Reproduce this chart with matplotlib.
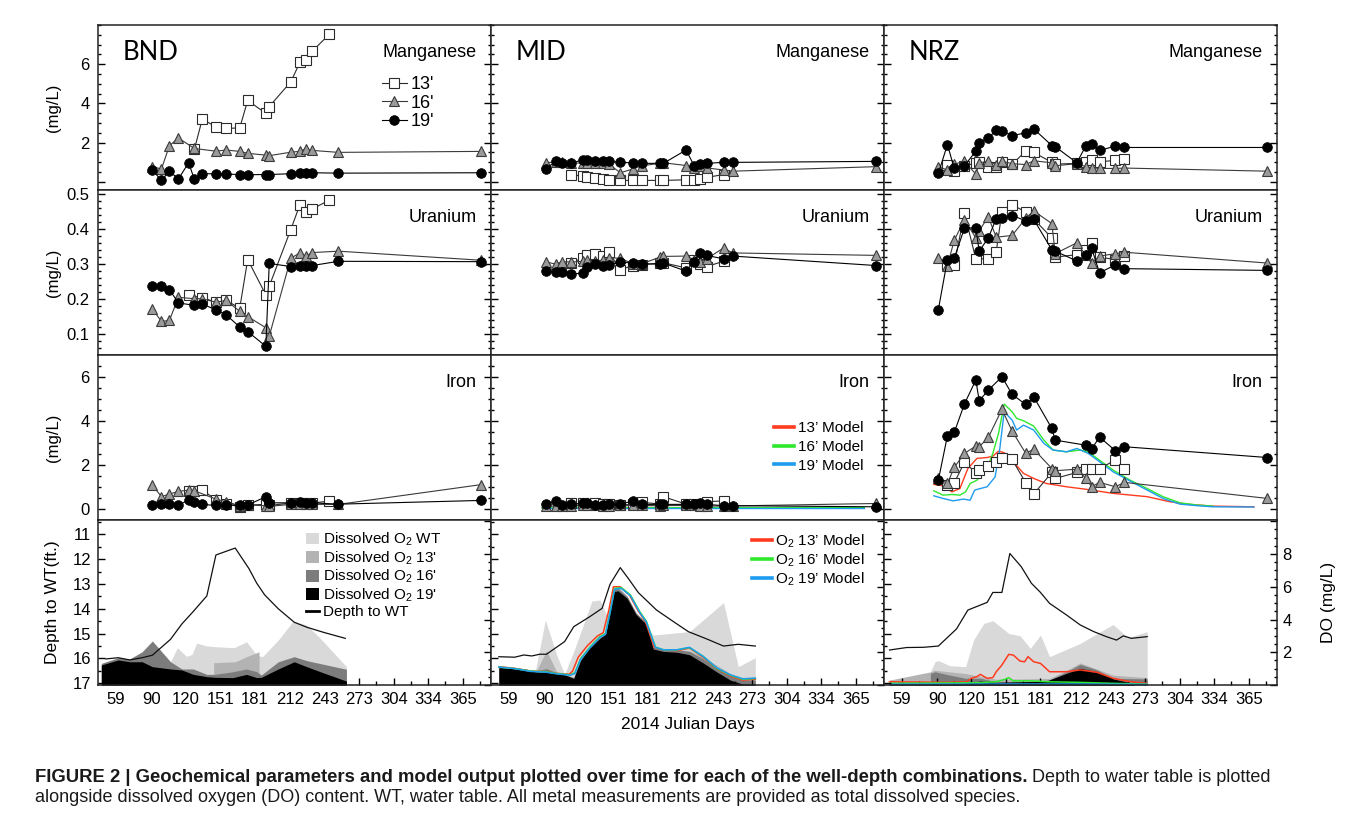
import matplotlib
matplotlib.use("Agg")
import matplotlib.pyplot as plt
from matplotlib.lines import Line2D
from matplotlib.patches import Patch
from matplotlib.ticker import MultipleLocator, FixedLocator, NullLocator

plt.rcParams['font.family'] = ['Liberation Sans', 'DejaVu Sans']
plt.rcParams['mathtext.fontset'] = 'custom'
plt.rcParams['mathtext.rm'] = 'Liberation Sans'
plt.rcParams['mathtext.it'] = 'Liberation Sans:italic'
plt.rcParams['mathtext.bf'] = 'Liberation Sans:bold'

# ----------------------------------------------------------------- data
sites = ["BND", "MID", "NRZ"]
metals = ["Manganese", "Uranium", "Iron"]
month_ticks = [59, 90, 120, 151, 181, 212, 243, 273, 304, 334, 365]
minor_ticks = [74, 105, 135, 166, 196, 227, 258, 288, 319, 349, 380]

# BND
bnd_mn_13_day = [128, 135, 147, 156, 168, 175, 191, 194, 213, 221, 226, 232, 247]
bnd_mn_13_val = [1.65, 3.2, 2.8, 2.72, 2.75, 4.15, 3.49, 3.84, 5.1, 6.09, 6.22, 6.67, 7.53]
bnd_mn_16_day = [91, 99, 106, 114, 128, 147, 156, 168, 175, 191, 194, 213, 221, 226, 232, 255, 381]
bnd_mn_16_val = [0.77, 0.65, 1.84, 2.23, 1.7, 1.56, 1.62, 1.55, 1.45, 1.36, 1.33, 1.51, 1.55, 1.67, 1.6, 1.5, 1.55]
bnd_mn_19_day = [91, 99, 106, 114, 123, 128, 135, 147, 156, 168, 175, 191, 194, 213, 221, 226, 232, 255, 381]
bnd_mn_19_val = [0.6, 0.07, 0.54, 0.15, 0.97, 0.12, 0.41, 0.41, 0.39, 0.37, 0.36, 0.37, 0.37, 0.41, 0.43, 0.43, 0.46, 0.44, 0.46]

bnd_u_13_day = [123, 135, 147, 156, 168, 175, 191, 194, 213, 221, 226, 232, 247]
bnd_u_13_val = [0.21, 0.203, 0.19, 0.195, 0.173, 0.312, 0.211, 0.236, 0.398, 0.469, 0.448, 0.457, 0.482]
bnd_u_16_day = [91, 99, 106, 114, 128, 135, 147, 156, 168, 175, 191, 194, 213, 221, 226, 232, 255, 381]
bnd_u_16_val = [0.171, 0.135, 0.138, 0.204, 0.2, 0.2, 0.19, 0.195, 0.164, 0.149, 0.117, 0.093, 0.316, 0.331, 0.322, 0.332, 0.336, 0.31]
bnd_u_19_day = [91, 99, 106, 114, 128, 135, 147, 156, 168, 175, 191, 194, 213, 221, 226, 232, 255, 381]
bnd_u_19_val = [0.235, 0.236, 0.226, 0.188, 0.181, 0.185, 0.168, 0.154, 0.119, 0.106, 0.064, 0.301, 0.292, 0.295, 0.293, 0.295, 0.307, 0.306]

bnd_fe_13_day = [123, 128, 135, 147, 156, 168, 175, 191, 194, 213, 221, 226, 232, 247]
bnd_fe_13_val = [0.83, 0.83, 0.86, 0.41, 0.23, 0.09, 0.17, 0.2, 0.15, 0.26, 0.26, 0.24, 0.26, 0.35]
bnd_fe_16_day = [91, 99, 106, 114, 123, 128, 147, 156, 168, 175, 191, 194, 213, 221, 226, 232, 255, 381]
bnd_fe_16_val = [1.08, 0.55, 0.67, 0.79, 0.85, 0.82, 0.44, 0.32, 0.14, 0.17, 0.14, 0.11, 0.2, 0.2, 0.2, 0.2, 0.2, 1.1]
bnd_fe_19_day = [91, 99, 106, 114, 123, 128, 135, 147, 156, 168, 175, 191, 194, 213, 221, 226, 232, 255, 381]
bnd_fe_19_val = [0.18, 0.21, 0.21, 0.15, 0.41, 0.32, 0.2, 0.15, 0.15, 0.18, 0.17, 0.55, 0.27, 0.27, 0.3, 0.26, 0.27, 0.21, 0.38]

# MID
mid_day = [92, 100, 106, 114, 124, 128, 135, 142, 147, 157, 168, 176, 192, 195, 215, 222, 227, 233, 248, 256, 382]
mid_day_13 = [114, 124, 128, 135, 142, 147, 157, 168, 176, 192, 195, 215, 222, 227, 233, 248]
mid_mn_13_val = [0.36, 0.29, 0.24, 0.2, 0.12, 0.1, 0.07, 0.07, 0.07, 0.07, 0.07, 0.1, 0.1, 0.15, 0.22, 0.37]
mid_mn_16_val = [0.97, 1.02, 1.02, 0.94, 0.97, 0.97, 0.97, 0.97, 0.9, 0.46, 0.65, 0.82, 0.94, 0.97, 0.83, 0.71, 0.8, 0.71, 0.6, 0.54, 0.77]
mid_mn_19_val = [0.66, 1.07, 0.94, 0.97, 1.11, 1.11, 1.05, 1.05, 1.04, 0.99, 0.97, 0.94, 0.94, 0.94, 1.62, 0.83, 0.9, 0.94, 0.99, 0.99, 1.04]
mid_u_13_val = [0.303, 0.316, 0.326, 0.328, 0.322, 0.333, 0.283, 0.295, 0.297, 0.302, 0.303, 0.288, 0.31, 0.3, 0.292, 0.307]
mid_u_16_val = [0.305, 0.299, 0.306, 0.305, 0.307, 0.312, 0.309, 0.31, 0.317, 0.316, 0.3, 0.3, 0.319, 0.321, 0.322, 0.312, 0.305, 0.314, 0.345, 0.331, 0.324]
mid_u_19_val = [0.278, 0.277, 0.276, 0.271, 0.273, 0.29, 0.298, 0.293, 0.296, 0.305, 0.302, 0.3, 0.299, 0.302, 0.279, 0.306, 0.332, 0.324, 0.314, 0.322, 0.295]
mid_fe_13_val = [0.24, 0.24, 0.22, 0.27, 0.2, 0.2, 0.18, 0.2, 0.29, 0.22, 0.55, 0.21, 0.21, 0.18, 0.32, 0.36]
mid_fe_16_val = [0.12, 0.12, 0.13, 0.14, 0.15, 0.15, 0.16, 0.14, 0.14, 0.15, 0.16, 0.15, 0.14, 0.15, 0.15, 0.16, 0.13, 0.13, 0.12, 0.13, 0.24]
mid_fe_19_val = [0.2, 0.36, 0.17, 0.2, 0.24, 0.24, 0.17, 0.17, 0.2, 0.2, 0.36, 0.2, 0.2, 0.2, 0.2, 0.2, 0.27, 0.2, 0.14, 0.14, 0.09]

# NRZ
nrz_day = [91, 99, 105, 114, 124, 127, 135, 142, 147, 156, 168, 175, 191, 194, 213, 221, 226, 233, 247, 255, 381]
nrz_day_13 = [99, 105, 114, 124, 127, 135, 142, 147, 156, 168, 175, 191, 194, 213, 221, 226, 233, 247, 255]
nrz_mn_13_val = [0.87, 0.56, 0.83, 0.94, 0.99, 0.77, 0.73, 1.02, 0.9, 1.56, 1.5, 0.99, 0.9, 0.94, 1.02, 1.11, 1.02, 1.09, 1.14]
nrz_mn_16_val = [0.77, 0.6, 0.9, 1.04, 0.39, 0.97, 1.04, 0.87, 1.05, 0.92, 0.88, 1.07, 0.97, 0.82, 0.92, 0.77, 0.71, 0.68, 0.68, 0.7, 0.54]
nrz_mn_19_val = [0.43, 1.9, 0.68, 0.82, 1.56, 2.0, 2.23, 2.64, 2.59, 2.35, 2.5, 2.7, 1.85, 1.79, 0.97, 1.84, 1.92, 1.6, 1.82, 1.75, 1.75]
nrz_u_13_day = [99, 105, 114, 124, 135, 142, 147, 156, 168, 175, 191, 194, 213, 221, 226, 233, 247, 255]
nrz_u_13_val = [0.297, 0.297, 0.445, 0.314, 0.314, 0.335, 0.448, 0.469, 0.448, 0.428, 0.374, 0.319, 0.326, 0.338, 0.36, 0.319, 0.312, 0.321]
nrz_u_16_day = [91, 99, 105, 114, 124, 127, 135, 142, 156, 168, 175, 191, 194, 213, 221, 226, 233, 247, 255, 381]
nrz_u_16_val = [0.317, 0.295, 0.367, 0.426, 0.374, 0.395, 0.434, 0.376, 0.381, 0.43, 0.451, 0.415, 0.329, 0.36, 0.324, 0.302, 0.322, 0.329, 0.333, 0.302]
nrz_u_19_val = [0.169, 0.312, 0.316, 0.402, 0.403, 0.336, 0.374, 0.429, 0.431, 0.438, 0.423, 0.427, 0.34, 0.336, 0.308, 0.324, 0.345, 0.274, 0.297, 0.286, 0.281]
nrz_fe_13_val = [1.08, 1.18, 2.11, 1.64, 1.76, 1.95, 2.14, 2.32, 2.24, 1.18, 0.67, 1.65, 1.38, 1.65, 1.83, 1.79, 1.83, 2.21, 1.8]
nrz_fe_16_day = [91, 99, 105, 114, 124, 127, 135, 147, 156, 168, 175, 191, 194, 213, 221, 226, 233, 247, 255, 381]
nrz_fe_16_val = [1.38, 1.15, 1.88, 2.52, 2.85, 2.82, 3.24, 4.52, 3.53, 2.52, 2.71, 1.83, 1.73, 1.8, 1.38, 1.0, 1.2, 1.0, 1.2, 0.47]
nrz_fe_19_day = [91, 99, 105, 114, 124, 127, 135, 147, 156, 168, 175, 191, 194, 221, 226, 233, 247, 255, 381]
nrz_fe_19_val = [1.3, 3.32, 3.47, 4.77, 5.85, 4.91, 5.39, 6.0, 5.2, 4.74, 5.09, 3.65, 3.12, 2.89, 2.71, 3.26, 2.64, 2.82, 2.33]

# Iron model output
mid_fe_model_day = [88, 130, 175, 220, 270, 320, 372]
mid_fe_model13_val = [0.06, 0.06, 0.06, 0.05, 0.05, 0.05, 0.05]
mid_fe_model16_val = [0.05, 0.06, 0.05, 0.05, 0.05, 0.05, 0.05]
mid_fe_model19_val = [0.05, 0.05, 0.05, 0.05, 0.05, 0.05, 0.05]
nrz_fe_model13_day = [87, 95, 103, 110, 117, 125, 134, 139, 144, 149, 157, 166, 175, 186, 204, 222, 245, 275, 295, 310, 333, 369]
nrz_fe_model13_val = [1.11, 1.05, 0.77, 0.92, 1.83, 2.29, 2.33, 2.39, 2.62, 2.55, 2.14, 1.61, 1.38, 1.15, 1.0, 0.88, 0.7, 0.55, 0.32, 0.21, 0.12, 0.09]
nrz_fe_model16_day = [87, 95, 103, 110, 115, 119, 125, 134, 139, 144, 149, 156, 160, 166, 175, 184, 192, 204, 216, 223, 233, 245, 260, 275, 289, 304, 319, 333]
nrz_fe_model16_val = [0.82, 0.62, 0.65, 0.62, 0.77, 1.15, 1.3, 1.83, 2.52, 3.42, 4.76, 4.41, 4.11, 4.0, 3.76, 3.12, 2.67, 2.59, 2.67, 2.59, 2.21, 1.76, 1.3, 0.92, 0.55, 0.27, 0.17, 0.12]
nrz_fe_model19_day = [87, 95, 104, 113, 119, 123, 128, 134, 141, 145, 149, 156, 160, 166, 175, 184, 192, 204, 213, 223, 233, 245, 260, 275, 289, 304, 319, 333, 369]
nrz_fe_model19_val = [0.59, 0.47, 0.36, 0.44, 0.39, 0.85, 0.92, 1.0, 1.45, 2.67, 4.41, 4.03, 3.58, 3.8, 3.58, 2.97, 2.67, 2.59, 2.74, 2.52, 2.14, 1.68, 1.26, 0.85, 0.47, 0.21, 0.14, 0.09, 0.08]

# Depth to water table (ft)
bnd_wt_day = [50, 61, 71, 82, 91, 107, 117, 127, 139, 147, 164, 176, 183, 190, 202, 216, 227, 242, 261]
bnd_wt_val = [16.02, 15.97, 16.06, 15.97, 15.87, 15.23, 14.61, 14.11, 13.48, 11.83, 11.55, 12.37, 12.97, 13.44, 14.0, 14.54, 14.74, 14.95, 15.19]
mid_wt_day = [50, 64, 72, 79, 86, 92, 108, 116, 130, 141, 148, 157, 164, 173, 189, 204, 217, 233, 248, 261, 276]
mid_wt_val = [15.93, 15.95, 15.86, 15.9, 15.83, 15.83, 15.32, 14.72, 14.32, 13.98, 13.01, 12.34, 12.77, 13.35, 14.05, 14.52, 14.92, 15.21, 15.5, 15.43, 15.5]
nrz_wt_day = [48, 63, 78, 91, 107, 117, 134, 139, 147, 154, 164, 173, 181, 189, 204, 216, 228, 239, 248, 254, 261, 275]
nrz_wt_val = [15.66, 15.56, 15.55, 15.5, 14.81, 14.05, 13.74, 13.34, 13.34, 11.77, 12.3, 12.97, 13.34, 13.78, 14.25, 14.65, 14.92, 15.12, 15.26, 15.09, 15.19, 15.12]

# Dissolved oxygen (mg/L)
bnd_do_wt_day = [107, 113, 121, 126, 130, 138, 146, 163, 174, 183, 188, 202, 215, 227, 239, 262]
bnd_do_wt_val = [1.42, 2.28, 1.75, 1.87, 2.56, 2.4, 2.34, 2.28, 2.64, 1.83, 1.73, 2.75, 3.9, 3.66, 2.85, 1.12]
bnd_do_13_day = [145, 164, 174, 185]
bnd_do_13_val = [1.36, 1.42, 1.73, 2.03]
bnd_do_16_day = [46, 61, 71, 82, 91, 107, 117, 127, 139, 146, 162, 174, 183, 187, 202, 216, 227, 262]
bnd_do_16_val = [1.32, 1.67, 1.59, 2.03, 2.69, 1.42, 0.98, 0.98, 0.65, 0.65, 0.81, 0.98, 0.81, 0.61, 1.42, 1.73, 1.49, 0.96]
bnd_do_19_day = [46, 61, 71, 82, 91, 107, 117, 127, 139, 146, 162, 174, 183, 187, 202, 216, 227, 239, 262]
bnd_do_19_val = [1.22, 1.53, 1.42, 1.42, 1.12, 0.98, 0.92, 0.65, 0.51, 0.47, 0.45, 0.65, 0.45, 0.47, 0.98, 1.42, 1.12, 0.81, 0.24]

mid_do_wt_day = [82, 91, 101, 108, 117, 132, 139, 145, 154, 160, 171, 186, 218, 248, 261, 276]
mid_do_wt_val = [0.81, 3.97, 1.83, 0.65, 2.24, 5.13, 5.19, 4.27, 6.1, 5.6, 4.27, 3.05, 3.26, 5.03, 1.12, 1.67]
mid_do_day = [50, 64, 72, 83, 92, 101, 108, 116, 122, 130, 139, 144, 151, 155, 163, 171, 180, 186, 195, 207, 218, 230, 242, 254, 265, 276]
mid_do_13_val = [1.1, 1.05, 1.0, 0.85, 2.1, 0.8, 0.65, 0.45, 1.55, 2.3, 2.9, 3.2, 5.9, 6.0, 5.45, 4.4, 3.8, 2.3, 2.2, 2.15, 2.1, 1.7, 1.2, 0.7, 0.4, 0.4]
mid_do_16_val = [1.1, 1.05, 1.0, 0.85, 1.0, 0.75, 0.65, 0.45, 1.55, 2.3, 2.9, 3.2, 5.85, 5.9, 5.4, 4.4, 3.8, 2.3, 2.2, 2.15, 2.05, 1.6, 1.05, 0.55, 0.3, 0.3]
mid_do_19_val = [1.06, 1.0, 0.95, 0.8, 0.78, 0.7, 0.62, 0.4, 1.5, 2.25, 2.85, 3.1, 5.7, 5.75, 5.3, 4.3, 3.7, 2.2, 2.05, 2.0, 1.85, 1.35, 0.8, 0.3, 0.05, 0.05]

nrz_do_wt_day = [48, 78, 84, 88, 91, 101, 115, 122, 131, 139, 153, 163, 172, 181, 189, 216, 245, 258, 275]
nrz_do_wt_val = [0.31, 0.31, 0.81, 1.42, 1.49, 1.18, 1.12, 2.75, 3.76, 3.93, 3.15, 3.01, 2.24, 3.05, 1.73, 2.54, 3.7, 2.89, 3.26]
nrz_do_13_day = [48, 84, 88, 115, 142, 189, 204, 216, 245, 275]
nrz_do_13_val = [0.3, 0.8, 0.9, 0.7, 0.35, 0.4, 0.9, 1.35, 0.6, 0.45]
nrz_do_16_day = [84, 88, 98, 115, 128, 142, 172, 189, 204, 216, 231, 245, 275]
nrz_do_16_val = [0.71, 0.81, 0.65, 0.41, 0.41, 0.2, 0.2, 0.31, 0.81, 1.26, 0.92, 0.41, 0.37]
nrz_do_19_day = [48, 113, 128, 142, 186, 204, 216, 231, 245, 263]
nrz_do_19_val = [0.1, 0.1, 0.24, 0.16, 0.24, 0.71, 1.02, 0.81, 0.37, 0.1]

# O2 model output
mid_do_model13_day = [50, 64, 78, 92, 101, 112, 115, 120, 128, 137, 142, 147, 151, 157, 165, 173, 179, 187, 195, 207, 218, 230, 242, 254, 265, 276]
mid_do_model13_val = [1.12, 1.02, 0.85, 0.81, 0.71, 0.65, 0.85, 1.7, 2.4, 3.0, 3.2, 4.6, 6.0, 6.0, 5.5, 4.5, 3.9, 2.3, 2.14, 2.1, 2.25, 1.7, 1.0, 0.55, 0.3, 0.35]
mid_do_model_day = [50, 64, 78, 92, 101, 113, 117, 122, 130, 139, 144, 148, 152, 158, 166, 174, 180, 188, 195, 207, 218, 230, 242, 254, 265, 276]
mid_do_model16_val = [1.1, 1.0, 0.85, 0.8, 0.7, 0.62, 0.75, 1.6, 2.3, 2.95, 3.15, 4.45, 5.9, 5.95, 5.5, 4.5, 3.9, 2.32, 2.15, 2.15, 2.28, 1.75, 1.02, 0.6, 0.35, 0.4]
mid_do_model19_val = [1.1, 1.0, 0.83, 0.78, 0.68, 0.6, 0.7, 1.55, 2.25, 2.9, 3.1, 4.4, 5.85, 5.9, 5.45, 4.45, 3.85, 2.3, 2.15, 2.15, 2.3, 1.75, 1.05, 0.62, 0.38, 0.42]
nrz_do_model13_day = [48, 98, 116, 120, 125, 128, 134, 139, 142, 147, 153, 157, 163, 167, 170, 175, 181, 189, 204, 216, 231, 245, 260, 275]
nrz_do_model13_val = [0.2, 0.16, 0.2, 0.41, 0.51, 0.65, 0.41, 0.45, 0.81, 1.22, 1.87, 1.83, 1.46, 1.42, 1.73, 1.42, 1.32, 0.81, 0.81, 0.92, 0.77, 0.41, 0.2, 0.1]
nrz_do_model16_day = [48, 128, 142, 150, 153, 157, 172, 186, 216, 245, 275]
nrz_do_model16_val = [0.1, 0.14, 0.2, 0.35, 0.45, 0.25, 0.26, 0.2, 0.16, 0.1, 0.06]
nrz_do_model19_day = [48, 150, 216, 275]
nrz_do_model19_val = [0.05, 0.06, 0.06, 0.04]

# ----------------------------------------------------------------- layout
FIG_W, FIG_H = 1358, 825
fig = plt.figure(figsize=(FIG_W / 100, FIG_H / 100), dpi=100)

def fx(px):
    return px / FIG_W

def fy(py):
    return 1 - py / FIG_H

col_x = [98, 491, 884]
col_w = 393
row_y = [25, 190, 355, 520]
row_h = 165
XLIM = (43.1, 389.4)

RED, GREEN, BLUE = '#ff3b1f', '#2ee82e', '#1e9cf0'
GREY_WT, GREY_13, GREY_16 = '#d9d9d9', '#b3b3b3', '#7c7c7c'

STYLE = {
    13: dict(marker='s', ms=7, mfc='white', mec='#2b2b2b', mew=0.8, color='#2b2b2b', lw=0.8),
    16: dict(marker='^', ms=7.5, mfc='#9a9a9a', mec='#3a3a3a', mew=0.8, color='#3a3a3a', lw=0.8),
    19: dict(marker='o', ms=7, mfc='black', mec='black', mew=0.5, color='black', lw=0.8),
}

series = {
    ("BND", "Manganese"): [(bnd_mn_13_day, bnd_mn_13_val), (bnd_mn_16_day, bnd_mn_16_val), (bnd_mn_19_day, bnd_mn_19_val)],
    ("BND", "Uranium"): [(bnd_u_13_day, bnd_u_13_val), (bnd_u_16_day, bnd_u_16_val), (bnd_u_19_day, bnd_u_19_val)],
    ("BND", "Iron"): [(bnd_fe_13_day, bnd_fe_13_val), (bnd_fe_16_day, bnd_fe_16_val), (bnd_fe_19_day, bnd_fe_19_val)],
    ("MID", "Manganese"): [(mid_day_13, mid_mn_13_val), (mid_day, mid_mn_16_val), (mid_day, mid_mn_19_val)],
    ("MID", "Uranium"): [(mid_day_13, mid_u_13_val), (mid_day, mid_u_16_val), (mid_day, mid_u_19_val)],
    ("MID", "Iron"): [(mid_day_13, mid_fe_13_val), (mid_day, mid_fe_16_val), (mid_day, mid_fe_19_val)],
    ("NRZ", "Manganese"): [(nrz_day_13, nrz_mn_13_val), (nrz_day, nrz_mn_16_val), (nrz_day, nrz_mn_19_val)],
    ("NRZ", "Uranium"): [(nrz_u_13_day, nrz_u_13_val), (nrz_u_16_day, nrz_u_16_val), (nrz_day, nrz_u_19_val)],
    ("NRZ", "Iron"): [(nrz_day_13, nrz_fe_13_val), (nrz_fe_16_day, nrz_fe_16_val), (nrz_fe_19_day, nrz_fe_19_val)],
}
fe_models = {
    "MID": [(mid_fe_model_day, mid_fe_model13_val), (mid_fe_model_day, mid_fe_model16_val), (mid_fe_model_day, mid_fe_model19_val)],
    "NRZ": [(nrz_fe_model13_day, nrz_fe_model13_val), (nrz_fe_model16_day, nrz_fe_model16_val), (nrz_fe_model19_day, nrz_fe_model19_val)],
}
wt_depth = {"BND": (bnd_wt_day, bnd_wt_val), "MID": (mid_wt_day, mid_wt_val), "NRZ": (nrz_wt_day, nrz_wt_val)}
do_fill = {
    "BND": [(bnd_do_wt_day, bnd_do_wt_val), (bnd_do_13_day, bnd_do_13_val), (bnd_do_16_day, bnd_do_16_val), (bnd_do_19_day, bnd_do_19_val)],
    "MID": [(mid_do_wt_day, mid_do_wt_val), (mid_do_day, mid_do_13_val), (mid_do_day, mid_do_16_val), (mid_do_day, mid_do_19_val)],
    "NRZ": [(nrz_do_wt_day, nrz_do_wt_val), (nrz_do_13_day, nrz_do_13_val), (nrz_do_16_day, nrz_do_16_val), (nrz_do_19_day, nrz_do_19_val)],
}
do_models = {
    "MID": [(mid_do_model13_day, mid_do_model13_val), (mid_do_model_day, mid_do_model16_val), (mid_do_model_day, mid_do_model19_val)],
    "NRZ": [(nrz_do_model13_day, nrz_do_model13_val), (nrz_do_model16_day, nrz_do_model16_val), (nrz_do_model19_day, nrz_do_model19_val)],
}

YLIM = {"Manganese": (-0.42, 8.0), "Uranium": (0.039, 0.511), "Iron": (-0.51, 6.99)}
TICKFS = 12
SPINE_LW = 1.1


def add_ax(c, r):
    return fig.add_axes([fx(col_x[c]), fy(row_y[r] + row_h), fx(col_w), row_h / FIG_H])


def style_spines(ax):
    for s in ax.spines.values():
        s.set_linewidth(SPINE_LW)
        s.set_color('#222222')


for c, site in enumerate(sites):
    for r, metal in enumerate(metals):
        ax = add_ax(c, r)
        style_spines(ax)
        for depth, (d, v) in zip((13, 16, 19), series[(site, metal)]):
            ax.plot(d, v, zorder=3, **STYLE[depth])
        if metal == "Iron" and site in fe_models:
            for col, (d, v) in zip((RED, GREEN, BLUE), fe_models[site]):
                ax.plot(d, v, color=col, lw=1.0, zorder=2)
        ax.set_xlim(*XLIM)
        ax.set_ylim(*YLIM[metal])
        ax.xaxis.set_major_locator(NullLocator())
        ax.xaxis.set_minor_locator(NullLocator())
        if metal == "Uranium":
            ax.yaxis.set_major_locator(FixedLocator([0.1, 0.2, 0.3, 0.4, 0.5]))
            ax.yaxis.set_minor_locator(MultipleLocator(0.02))
            ax.set_yticklabels(["0.1", "0.2", "0.3", "0.4", "0.5"])
        else:
            ax.yaxis.set_major_locator(FixedLocator([0, 2, 4, 6]))
            ax.yaxis.set_minor_locator(MultipleLocator(0.5))
            ax.set_yticklabels(["" if metal == "Manganese" else "0", "2", "4", "6"])
        ax.tick_params(axis='y', which='both', direction='in', left=True, right=True,
                       labelleft=(c == 0), labelsize=TICKFS, pad=6, width=1.0)
        ax.tick_params(axis='y', which='major', length=5)
        ax.tick_params(axis='y', which='minor', length=2.5)
        ax.text(0.963, 0.835, metal, transform=ax.transAxes, ha='right', va='center', fontsize=13)
        if r == 0:
            ax.text(0.062, 0.835, site, transform=ax.transAxes, ha='left', va='center',
                    fontsize=18.5, family=['Lato', 'DejaVu Sans'])
        if site == "BND" and metal == "Manganese":
            handles = [Line2D([], [], **STYLE[k]) for k in (13, 16, 19)]
            ax.legend(handles, ["13'", "16'", "19'"], loc='upper left', bbox_to_anchor=(0.722, 0.69),
                      frameon=False, fontsize=13, handlelength=1.4, handletextpad=0.2,
                      labelspacing=0.08, borderpad=0, borderaxespad=0, numpoints=1)
        if site == "MID" and metal == "Iron":
            handles = [Line2D([], [], color=col, lw=2.6) for col in (RED, GREEN, BLUE)]
            ax.legend(handles, ["13\u2019 Model", "16\u2019 Model", "19\u2019 Model"], loc='upper left',
                      bbox_to_anchor=(0.72, 0.6), frameon=False, fontsize=11, handlelength=1.3,
                      handletextpad=0.3, labelspacing=0.32, borderpad=0, borderaxespad=0)

    # bottom row: DO fills (main axis, right ticks) + depth to WT (twin axis, left ticks)
    ax = add_ax(c, 3)
    ax2 = ax.twinx()
    style_spines(ax)
    for colr, (d, v) in zip((GREY_WT, GREY_13, GREY_16, 'black'), do_fill[site]):
        ax.fill_between(d, 0, v, color=colr, lw=0, zorder=1)
    if site in do_models:
        for col, (d, v) in zip((RED, GREEN, BLUE), do_models[site]):
            ax.plot(d, v, color=col, lw=1.1, zorder=2)
    ax.set_xlim(*XLIM)
    ax.set_ylim(0, 10.08)
    ax.yaxis.tick_right()
    ax.yaxis.set_label_position('right')
    ax.yaxis.set_major_locator(FixedLocator([0, 2, 4, 6, 8, 10]))
    ax.yaxis.set_minor_locator(MultipleLocator(0.5))
    ax.set_yticklabels(["", "2", "4", "6", "8", ""])
    ax.tick_params(axis='y', which='both', direction='in', left=False, right=True,
                   labelleft=False, labelright=(c == 2), labelsize=TICKFS, pad=4, width=1.0)
    ax.tick_params(axis='y', which='major', length=5)
    ax.tick_params(axis='y', which='minor', length=2.5)
    ax.xaxis.set_major_locator(FixedLocator(month_ticks))
    ax.xaxis.set_minor_locator(FixedLocator(minor_ticks))
    ax.set_xticklabels([str(m) for m in month_ticks])
    ax.tick_params(axis='x', which='both', direction='in', bottom=True, top=False,
                   labelsize=TICKFS, pad=5, width=1.0)
    ax.tick_params(axis='x', which='major', length=5)
    ax.tick_params(axis='x', which='minor', length=3)

    d, v = wt_depth[site]
    ax2.plot(d, v, color='#111111', lw=0.9, zorder=3)
    ax2.set_ylim(17.07, 10.42)
    ax2.yaxis.tick_left()
    ax2.yaxis.set_label_position('left')
    ax2.yaxis.set_major_locator(FixedLocator([11, 12, 13, 14, 15, 16, 17]))
    ax2.yaxis.set_minor_locator(MultipleLocator(0.5))
    ax2.tick_params(axis='y', which='both', direction='in', left=True, right=False,
                    labelleft=(c == 0), labelright=False, labelsize=TICKFS, pad=5, width=1.0)
    ax2.tick_params(axis='y', which='major', length=5)
    ax2.tick_params(axis='y', which='minor', length=2.5)
    for s in ax2.spines.values():
        s.set_visible(False)

    if site == "BND":
        handles = [Patch(facecolor=GREY_WT, edgecolor='none'), Patch(facecolor=GREY_13, edgecolor='none'),
                   Patch(facecolor=GREY_16, edgecolor='none'), Patch(facecolor='black', edgecolor='none'),
                   Line2D([], [], color='black', lw=2)]
        labels = ["Dissolved O$_2$ WT", "Dissolved O$_2$ 13'", "Dissolved O$_2$ 16'",
                  "Dissolved O$_2$ 19'", "Depth to WT"]
        ax2.legend(handles, labels, loc='upper left', bbox_to_anchor=(0.53, 0.935), frameon=False,
                   fontsize=11, handlelength=0.8, handleheight=0.8, handletextpad=0.3,
                   labelspacing=0.08, borderpad=0, borderaxespad=0)
    if site == "MID":
        handles = [Line2D([], [], color=col, lw=2.6) for col in (RED, GREEN, BLUE)]
        ax2.legend(handles, ["O$_2$ 13\u2019 Model", "O$_2$ 16\u2019 Model", "O$_2$ 19\u2019 Model"],
                   loc='upper left', bbox_to_anchor=(0.665, 0.925), frameon=False, fontsize=11,
                   handlelength=1.3, handletextpad=0.2, labelspacing=0.1, borderpad=0, borderaxespad=0)

# axis titles
for r in range(3):
    fig.text(fx(53), fy(row_y[r] + row_h / 2), "(mg/L)", rotation=90, ha='center', va='center', fontsize=12)
fig.text(fx(53), fy(row_y[3] + row_h / 2), "Depth to WT(ft.)", rotation=90, ha='center', va='center', fontsize=12.5)
fig.text(fx(1329), fy(row_y[3] + row_h / 2), "DO (mg/L)", rotation=90, ha='center', va='center', fontsize=12.5)
fig.text(fx(688), fy(725), "2014 Julian Days", ha='center', va='center', fontsize=12.5)

# caption
cap_fs = 13
t1 = fig.text(fx(35), fy(777), "FIGURE 2 | Geochemical parameters and model output plotted over time for each of the well-depth combinations.",
              ha='left', va='center', fontsize=13.3, weight='bold', color='#1a1a1a')
fig.canvas.draw()
bb = t1.get_window_extent(renderer=fig.canvas.get_renderer())
fig.text(bb.x1 / fig.bbox.width + fx(5), fy(777), "Depth to water table is plotted",
         ha='left', va='center', fontsize=cap_fs, color='#1a1a1a')
fig.text(fx(35), fy(798), "alongside dissolved oxygen (DO) content. WT, water table. All metal measurements are provided as total dissolved species.",
         ha='left', va='center', fontsize=cap_fs, color='#1a1a1a')

fig.savefig("out.png", dpi=100)
